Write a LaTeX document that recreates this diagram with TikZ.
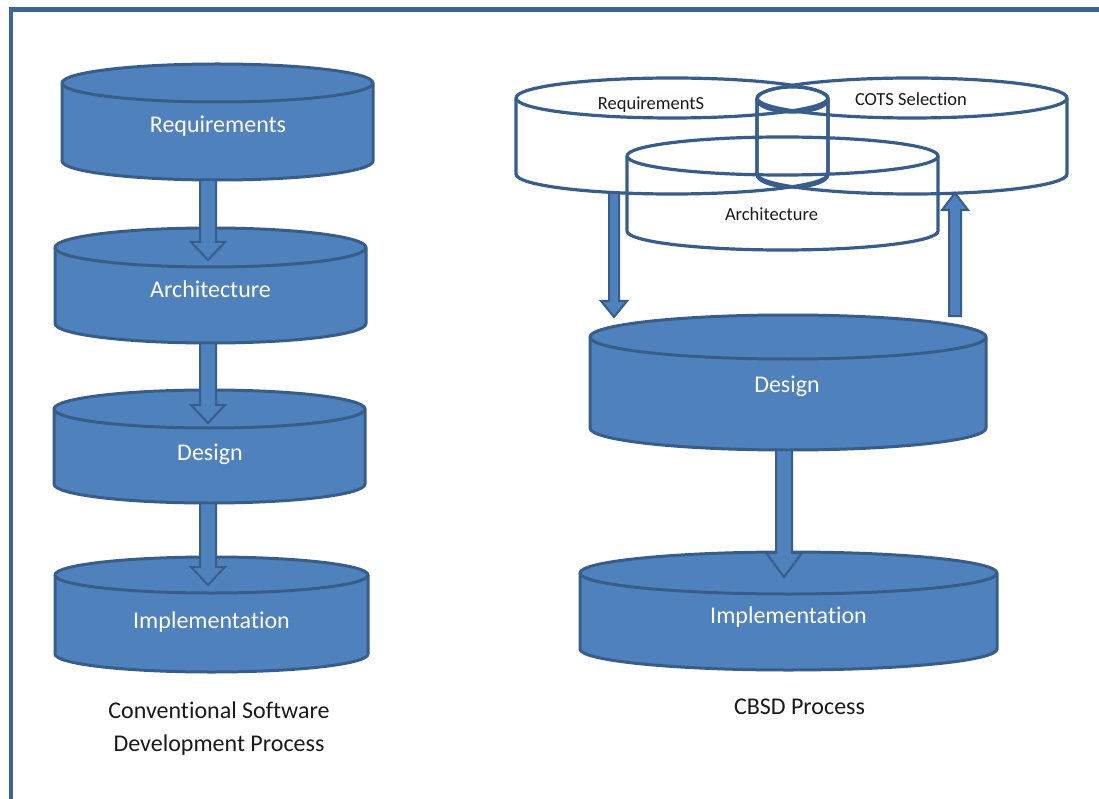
\documentclass[tikz,border=0pt]{standalone}
\usepackage{fontspec}
\setmainfont[Ligatures=NoCommon]{Carlito}
\usetikzlibrary{calc}

\definecolor{cylfill}{HTML}{4F81BD}
\definecolor{cylline}{HTML}{385D8A}
\definecolor{framecol}{HTML}{3D6696}
\definecolor{inkcol}{HTML}{1A1A1A}

\tikzset{
  cylbox/.style={rectangle, inner sep=0pt, outer sep=0pt},
  bluecyl/.style={fill=cylfill, draw=cylline, line width=3pt, line join=round},
  whitecyl/.style={draw=cylline, line width=3.2pt, line join=round},
  arrowbody/.style={fill=cylfill, draw=cylline, line width=2pt, line join=miter},
  framestyle/.style={draw=framecol, line width=4.6pt, line join=miter},
  biglabel/.style={font=\fontsize{24}{29}\selectfont, text=white, anchor=base, inner sep=0pt},
  smalllabel/.style={font=\fontsize{18.5}{22}\selectfont, text=inkcol, anchor=base, inner sep=0pt},
  captionlabel/.style={font=\fontsize{24}{33}\selectfont, text=inkcol, align=center, inner sep=0pt},
}

% cylinder: name, x-left, x-right, y-top, y-bottom, ellipse half-height, style
\newcommand\cylnode[7]{%
  \pgfmathsetmacro\cylcx{(#2+#3)/2}%
  \pgfmathsetmacro\cylcy{(#4+#5)/2}%
  \pgfmathsetmacro\cylrx{(#3-#2)/2}%
  \pgfmathsetmacro\cylw{#3-#2}%
  \pgfmathsetmacro\cylh{#5-#4}%
  \pgfmathsetmacro\cylya{#4+#6}%
  \pgfmathsetmacro\cylyb{#5-#6}%
  \node[cylbox, minimum width=\cylw pt, minimum height=\cylh pt] (#1) at (\cylcx,\cylcy) {};
  \path[#7] (#2,\cylya) -- (#2,\cylyb)
     arc[start angle=180, end angle=360, x radius=\cylrx pt, y radius=#6pt]
     -- (#3,\cylya)
     arc[start angle=0, end angle=180, x radius=\cylrx pt, y radius=#6pt] -- cycle;
  \path[#7, fill=none] (#2,\cylya)
     arc[start angle=180, end angle=360, x radius=\cylrx pt, y radius=#6pt];
}

% block arrow: start, tip, shaft half-width, head half-width, head length, direction (1 down, -1 up)
\newcommand\blockarrow[6]{%
  \path[arrowbody] let \p1=(#1), \p2=(#2) in
    ({\x2-#3pt},\y1) -- ({\x2-#3pt},{\y2+(#6)*#5pt}) -- ({\x2-#4pt},{\y2+(#6)*#5pt})
    -- (\x2,\y2)
    -- ({\x2+#4pt},{\y2+(#6)*#5pt}) -- ({\x2+#3pt},{\y2+(#6)*#5pt})
    -- ({\x2+#3pt},\y1) -- cycle;
}

\begin{document}
\begin{tikzpicture}[x=1pt, y=-1pt]
  \useasboundingbox (0,0) rectangle (1099,799);
  \fill[white] (0,0) rectangle (1099,799);

  % outer frame
  \draw[framestyle] (10.8,799) -- (10.8,9.3) -- (1099,9.3);

  % conventional process column
  \cylnode{reqL}{62}{373}{64}{180}{19}{bluecyl}
  \cylnode{archL}{55}{366}{228}{343}{19.5}{bluecyl}
  \cylnode{designL}{54}{365}{390}{503}{19}{bluecyl}
  \cylnode{implL}{55}{368}{557}{672}{18}{bluecyl}

  \node[biglabel] (reqL-t) at (218,133) {Requirements};
  \node[biglabel] (archL-t) at (210.5,298) {Architecture};
  \node[biglabel] (designL-t) at (210,460) {Design};
  \node[biglabel] (implL-t) at (211.5,628) {Implementation};

  \blockarrow{reqL.south}{$(archL.north)+(-2.5,32)$}{8}{17}{18}{1}
  \blockarrow{archL.south}{$(designL.north)+(-1.5,33)$}{8}{17}{18}{1}
  \blockarrow{designL.south}{$(implL.north)+(-3.5,28)$}{8}{17}{18}{1}

  \node[captionlabel] (convcap) at (219,729) {Conventional Software\\Development Process};

  % CBSD process column
  \cylnode{reqR}{516}{828}{78}{194}{20}{whitecyl}
  \cylnode{cotsR}{757}{1067}{78}{194}{20}{whitecyl}
  \cylnode{archR}{627}{938}{137}{250}{19}{whitecyl}
  \cylnode{lensR}{757}{828}{87}{187}{12.5}{whitecyl}

  \node[smalllabel] (reqR-t) at (651,110) {RequirementS};
  \node[smalllabel] (cotsR-t) at (911,106) {COTS Selection};
  \node[smalllabel] (archR-t) at (771.5,221) {Architecture};

  \cylnode{designR}{590}{986}{315}{450}{22}{bluecyl}
  \cylnode{implR}{580}{997}{552}{670}{21}{bluecyl}

  \node[biglabel] (designR-t) at (787,392) {Design};
  \node[biglabel] (implR-t) at (788.5,623) {Implementation};

  \blockarrow{$(reqR.south)+(0,-1)$}{$(designR.north)+(-174,2)$}{5}{13}{16}{1}
  \blockarrow{$(designR.north)+(0,1)$}{$(cotsR.south)+(43,-1)$}{6}{13}{17}{-1}
  \blockarrow{designR.south}{$(implR.north)+(-4.5,25)$}{8}{18}{24}{1}

  \node[smalllabel, font=\fontsize{24}{29}\selectfont] (cbsdcap) at (799.5,714) {CBSD Process};
\end{tikzpicture}
\end{document}
